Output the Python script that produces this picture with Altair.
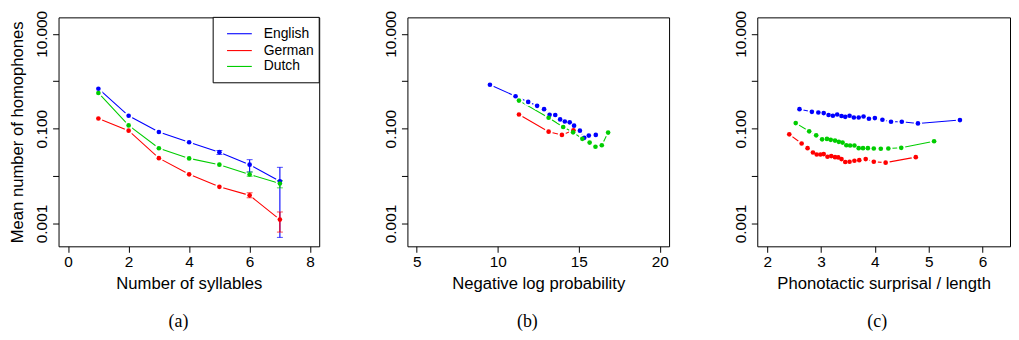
import altair as alt
import pandas as pd

LANGS = ["English", "German", "Dutch"]
COLORS = ["#0000FF", "#FF0000", "#00CD00"]

# Panel (a): number of syllables
syll_x = [1, 2, 3, 4, 5, 6, 7]
syll_en = [0.697, 0.187, 0.0853, 0.0518, 0.032, 0.0174, 0.0078]
syll_de = [0.164, 0.0908, 0.0239, 0.0109, 0.00593, 0.00392, 0.00121]
syll_nl = [0.566, 0.117, 0.0387, 0.0236, 0.0174, 0.0108, 0.00698]

# error bars (language, x, low, high)
err_lang = ["English", "English", "English", "German", "German", "Dutch", "Dutch"]
err_x = [5, 6, 7, 6, 7, 6, 7]
err_lo = [0.0286, 0.0122, 0.000509, 0.00349, 0.000659, 0.00993, 0.00565]
err_hi = [0.0347, 0.0222, 0.0153, 0.00445, 0.00175, 0.0122, 0.00807]

# Panel (b): negative log probability
nlp_en_x = [9.52, 11.10, 11.88, 12.43, 12.86, 13.20, 13.55, 13.85, 14.14, 14.44, 14.71, 15.07, 15.34, 15.62, 16.05]
nlp_en_y = [0.843, 0.483, 0.367, 0.303, 0.258, 0.196, 0.194, 0.157, 0.142, 0.136, 0.116, 0.0908, 0.064, 0.0714, 0.0738]
nlp_de_x = [11.31, 13.14, 13.96, 14.67]
nlp_de_y = [0.199, 0.0865, 0.0738, 0.0923]
nlp_nl_x = [11.31, 13.14, 14.04, 14.65, 15.22, 15.67, 16.03, 16.42, 16.81]
nlp_nl_y = [0.391, 0.170, 0.1086, 0.0838, 0.061, 0.0509, 0.0415, 0.0448, 0.0826]

# Panel (c): phonotactic surprisal / length
ps_en_x = [2.60, 2.83, 2.95, 3.05, 3.14, 3.22, 3.30, 3.38, 3.45, 3.53, 3.61, 3.70, 3.79, 3.89, 4.00, 4.14, 4.30, 4.50, 4.80, 5.58]
ps_en_y = [0.258, 0.227, 0.219, 0.213, 0.194, 0.187, 0.199, 0.185, 0.178, 0.187, 0.172, 0.172, 0.181, 0.162, 0.167, 0.154, 0.140, 0.140, 0.129, 0.152]
ps_nl_x = [2.53, 2.78, 2.91, 3.02, 3.11, 3.18, 3.26, 3.33, 3.40, 3.47, 3.54, 3.62, 3.70, 3.78, 3.87, 3.98, 4.11, 4.25, 4.49, 5.10]
ps_nl_y = [0.131, 0.0879, 0.0725, 0.0597, 0.0609, 0.0581, 0.0561, 0.0527, 0.0509, 0.0448, 0.0441, 0.0441, 0.0388, 0.0388, 0.0388, 0.0382, 0.0377, 0.0382, 0.0395, 0.0543]
ps_de_x = [2.41, 2.64, 2.75, 2.85, 2.92, 2.99, 3.05, 3.12, 3.19, 3.26, 3.32, 3.38, 3.45, 3.53, 3.62, 3.71, 3.83, 3.98, 4.20, 4.76]
ps_de_y = [0.076, 0.0487, 0.0388, 0.0315, 0.0286, 0.0286, 0.0291, 0.0256, 0.0264, 0.0251, 0.0248, 0.0228, 0.0198, 0.0201, 0.0211, 0.0217, 0.0228, 0.0201, 0.0192, 0.0251]

Y_TICKS = [0.001, 0.01, 0.1, 1, 10]
Y_DOMAIN = [0.000330, 22.28]
X_TITLES = ["Number of syllables", "Negative log probability", "Phonotactic surprisal / length"]
X_TICKS = [[0, 2, 4, 6, 8], [5, 10, 15, 20], [2, 3, 4, 5, 6]]
X_DOMAINS = [[-0.317, 8.30], [4.43, 20.57], [1.816, 6.51]]
WIDTHS = [263, 264, 255]
CAPTIONS = ["(a)", "(b)", "(c)"]
H = 231

LABEL_FS = 15.5
TITLE_FS = 16.8


def frame(xs, ys, lang):
    return pd.DataFrame({"x": xs, "v": ys, "lang": lang})


df_a = pd.concat([frame(syll_x, syll_en, "English"), frame(syll_x, syll_de, "German"),
                  frame(syll_x, syll_nl, "Dutch")])
df_b = pd.concat([frame(nlp_en_x, nlp_en_y, "English"), frame(nlp_de_x, nlp_de_y, "German"),
                  frame(nlp_nl_x, nlp_nl_y, "Dutch")])
df_c = pd.concat([frame(ps_en_x, ps_en_y, "English"), frame(ps_de_x, ps_de_y, "German"),
                  frame(ps_nl_x, ps_nl_y, "Dutch")])
df_err = pd.DataFrame({"lang": err_lang, "x": err_x, "lo": err_lo, "hi": err_hi})

color = alt.Color("lang:N", scale=alt.Scale(domain=LANGS, range=COLORS), legend=None)

label_expr = "datum.label == '0.010' || datum.label == '1.000' ? '' : datum.label"


def panel(i, df, with_title):
    xenc = alt.X("x:Q", scale=alt.Scale(domain=X_DOMAINS[i], nice=False, zero=False),
                 axis=alt.Axis(values=X_TICKS[i], title=X_TITLES[i], grid=False, domain=False,
                               tickSize=6, labelPadding=2, titlePadding=6, labelFlush=False))
    yaxis = alt.Axis(values=Y_TICKS, format=".3f", labelExpr=label_expr, grid=False, domain=False,
                     tickSize=6, labelAngle=270, labelAlign="center", labelBaseline="bottom",
                     labelPadding=3, titlePadding=8, labelOverlap=False,
                     title="Mean number of homophones" if with_title else "")
    yenc = alt.Y("v:Q", scale=alt.Scale(type="log", domain=Y_DOMAIN, nice=False), axis=yaxis)
    base = alt.Chart(df)
    lines = base.mark_line(strokeWidth=1.1).encode(x=xenc, y=yenc, color=color, detail="lang:N")
    halo = base.mark_circle(size=70, opacity=1).encode(x=xenc, y=yenc, color=alt.value("white"))
    pts = base.mark_circle(size=22, opacity=1).encode(x=xenc, y=yenc, color=color)
    layers = [lines, halo]
    if i == 0:
        eb = alt.Chart(df_err)
        ey = alt.Y("lo:Q", scale=alt.Scale(type="log", domain=Y_DOMAIN, nice=False), axis=yaxis)
        rule = eb.mark_rule(strokeWidth=1.1).encode(x=xenc, y=ey, y2="hi:Q", color=color)
        cap_lo = eb.mark_tick(orient="horizontal", size=6, thickness=1).encode(x=xenc, y=ey, color=color)
        cap_hi = eb.mark_tick(orient="horizontal", size=6, thickness=1).encode(
            x=xenc, y=alt.Y("hi:Q", scale=alt.Scale(type="log", domain=Y_DOMAIN, nice=False), axis=yaxis),
            color=color)
        layers += [rule, cap_lo, cap_hi]
    layers.append(pts)
    if i == 0:
        one = alt.Chart(pd.DataFrame({"k": [0]}))
        box = one.mark_rect(fill="white", stroke="black", strokeWidth=1).encode(
            x=alt.value(156), x2=alt.value(263), y=alt.value(0), y2=alt.value(66))
        layers.append(box)
        rows = [16.5, 33.5, 49.5]
        for lang, c, ry in zip(LANGS, COLORS, rows):
            layers.append(one.mark_rule(strokeWidth=1.1).encode(
                x=alt.value(170), x2=alt.value(195), y=alt.value(ry), color=alt.value(c)))
            layers.append(one.mark_text(align="left", baseline="middle", fontSize=14,
                                        font="Liberation Sans").encode(
                x=alt.value(207), y=alt.value(ry), text=alt.value(lang), color=alt.value("black")))
    cap = alt.Chart(pd.DataFrame({"k": [0]})).mark_text(
        font="Liberation Serif", fontSize=18, baseline="middle").encode(
        x=alt.value(121), y=alt.value(H + 76), text=alt.value(CAPTIONS[i]), color=alt.value("black"))
    layers.append(cap)
    return alt.layer(*layers).properties(width=WIDTHS[i], height=H)


chart = alt.hconcat(
    panel(0, df_a, True), panel(1, df_b, False), panel(2, df_c, False),
    spacing=89, bounds="flush"
).properties(
    padding={"left": 1, "top": 0, "right": 0, "bottom": 0}
).configure_view(
    stroke="black", strokeWidth=1
).configure_axis(
    labelFont="Liberation Sans", titleFont="Liberation Sans", labelFontSize=LABEL_FS,
    titleFontSize=TITLE_FS, titleFontWeight="normal", labelColor="black", titleColor="black",
    tickColor="black"
)

chart.save("out.html", embed_options={"renderer": "svg", "actions": False})
